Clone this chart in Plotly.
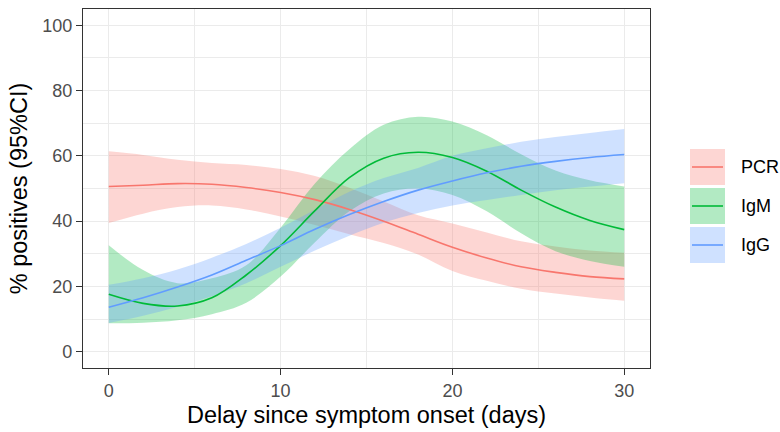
import plotly.graph_objects as go

days = [0, 2, 4, 6, 8, 10, 12, 14, 16, 18, 20, 22, 24, 26, 28, 30]

pcr_est = [50.6, 51.0, 51.5, 51.3, 50.3, 48.8, 46.6, 43.6, 40.0, 36.0, 32.0, 28.7, 26.0, 24.3, 23.0, 22.3]
pcr_hi = [61.4, 60.3, 58.8, 57.8, 57.2, 56.0, 53.8, 50.2, 46.0, 41.8, 39.3, 36.5, 33.8, 32.2, 31.0, 30.3]
pcr_lo = [39.4, 42.3, 44.3, 44.8, 43.6, 41.4, 38.8, 36.0, 33.3, 29.8, 24.7, 21.7, 19.3, 17.8, 16.6, 15.6]

igm_est = [17.6, 14.8, 14.0, 16.5, 23.5, 32.5, 43.2, 53.3, 59.3, 61.1, 59.5, 55.3, 49.5, 44.3, 40.2, 37.4]
igm_hi = [32.6, 25.0, 21.0, 22.5, 26.5, 38.0, 51.5, 62.0, 69.5, 72.0, 70.5, 66.3, 60.5, 55.5, 52.5, 50.6]
igm_lo = [8.7, 8.9, 9.6, 11.5, 15.0, 23.0, 33.5, 43.0, 48.5, 50.0, 48.0, 43.0, 36.3, 30.8, 27.8, 26.0]

igg_est = [13.6, 16.5, 19.8, 23.5, 28.0, 32.5, 37.5, 42.0, 46.0, 49.5, 52.3, 54.8, 56.8, 58.3, 59.5, 60.4]
igg_hi = [20.5, 22.5, 25.2, 28.8, 33.0, 38.0, 43.5, 49.0, 53.2, 56.3, 60.0, 62.3, 64.3, 65.8, 67.0, 68.2]
igg_lo = [8.8, 11.0, 13.8, 17.0, 21.0, 26.0, 31.0, 35.5, 39.5, 42.5, 44.8, 46.5, 48.0, 49.5, 50.6, 51.6]

series = [
    ("PCR", pcr_est, pcr_lo, pcr_hi, (248, 118, 109)),
    ("IgM", igm_est, igm_lo, igm_hi, (0, 186, 56)),
    ("IgG", igg_est, igg_lo, igg_hi, (97, 156, 255)),
]

x_ticks = [0, 10, 20, 30]
y_ticks = [0, 20, 40, 60, 80, 100]

FONT = "Arial, Liberation Sans, sans-serif"
ALPHA = 0.3

fig = go.Figure()

for name, est, lo, hi, c in series:
    fill = f"rgba({c[0]},{c[1]},{c[2]},{ALPHA})"
    fig.add_trace(go.Scatter(x=days, y=lo, mode="lines", line=dict(width=0, shape="spline"),
                             showlegend=False, hoverinfo="skip"))
    fig.add_trace(go.Scatter(x=days, y=hi, mode="lines", line=dict(width=0, shape="spline"),
                             fill="tonexty", fillcolor=fill, showlegend=False, hoverinfo="skip"))

for name, est, lo, hi, c in series:
    fig.add_trace(go.Scatter(x=days, y=est, mode="lines", name=name,
                             line=dict(color=f"rgb({c[0]},{c[1]},{c[2]})", width=1.6, shape="spline"),
                             showlegend=False))

# Plot area in pixels: x 83..650, y 9..368
L, R, T, B = 83, 650, 9, 368
W, H = R - L, B - T

def px(xp):
    return (xp - L) / W

def py(yp):
    return (B - yp) / H

shapes = []
annotations = []
key_top = 149
for i, (name, est, lo, hi, c) in enumerate(series):
    top = key_top + i * 39
    bot = top + 36
    shapes.append(dict(type="rect", xref="paper", yref="paper",
                       x0=px(690), x1=px(725), y0=py(bot), y1=py(top),
                       fillcolor=f"rgba({c[0]},{c[1]},{c[2]},{ALPHA})", line=dict(width=0)))
    mid = (top + bot) / 2
    shapes.append(dict(type="line", xref="paper", yref="paper",
                       x0=px(692), x1=px(723), y0=py(mid), y1=py(mid),
                       line=dict(color=f"rgb({c[0]},{c[1]},{c[2]})", width=1.6)))
    annotations.append(dict(text=name, xref="paper", yref="paper", x=px(739), y=py(mid),
                            xanchor="left", yanchor="middle", showarrow=False,
                            font=dict(family=FONT, size=18, color="black")))

axis_common = dict(
    showline=True, mirror=True, linecolor="#333333", linewidth=1.2,
    showgrid=True, gridcolor="#EBEBEB", gridwidth=1.2,
    ticks="outside", ticklen=6, tickwidth=1.2, tickcolor="#333333",
    tickfont=dict(family=FONT, size=18, color="#4D4D4D"),
    zeroline=False,
)

fig.update_layout(
    width=780, height=432,
    margin=dict(l=L, r=780 - R, t=T, b=432 - B, autoexpand=False),
    paper_bgcolor="white", plot_bgcolor="white",
    showlegend=False,
    xaxis=dict(range=[-1.5, 31.5], tickvals=x_ticks, ticktext=[str(v) for v in x_ticks],
               minor=dict(tickvals=[5, 15, 25], showgrid=True, gridcolor="#EBEBEB", gridwidth=0.6, ticks=""),
               title=dict(text="Delay since symptom onset (days)", standoff=6,
                          font=dict(family=FONT, size=23.5, color="black")),
               **axis_common),
    yaxis=dict(range=[-5, 105], tickvals=y_ticks, ticktext=[str(v) for v in y_ticks],
               minor=dict(tickvals=[10, 30, 50, 70, 90], showgrid=True, gridcolor="#EBEBEB", gridwidth=0.6, ticks=""),
               title=dict(text="% positives (95%CI)", standoff=8,
                          font=dict(family=FONT, size=23.5, color="black")),
               **axis_common),
    shapes=shapes,
    annotations=annotations,
)

fig.write_html("out.html",
               config={"displayModeBar": False},
               post_script="document.body.style.margin='0px';document.body.style.padding='0px';")
